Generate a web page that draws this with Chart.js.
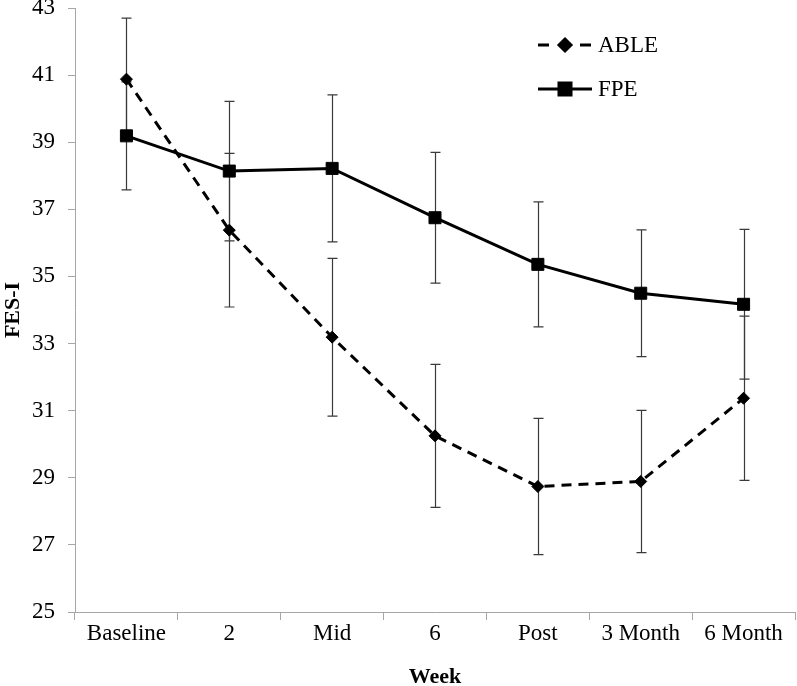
<!DOCTYPE html>
<html>
<head>
<meta charset="utf-8">
<script src="https://cdn.jsdelivr.net/npm/chart.js@4"></script>
<style>
  html, body { margin: 0; padding: 0; overflow: hidden; background: #fff; }
  canvas { display: block; }
</style>
</head>
<body>
<canvas id="myChart" width="797" height="686"></canvas>
<script>
const weeks = ["Baseline", "2", "Mid", "6", "Post", "3 Month", "6 Month"];
const ableMeans = [40.88, 36.38, 33.19, 30.25, 28.74, 28.89, 31.37];
const ableErr = [1.82, 2.29, 2.35, 2.13, 2.03, 2.12, 2.45];
const fpeMeans = [39.19, 38.14, 38.22, 36.75, 35.36, 34.50, 34.17];
const fpeErr = [1.61, 2.08, 2.19, 1.95, 1.86, 1.89, 2.23];

const serif = "'Liberation Serif', 'Times New Roman', serif";

// error bars, drawn under the lines
const errorBars = {
  id: "errorBars",
  beforeDatasetsDraw(chart) {
    const { ctx, scales } = chart;
    const x = scales.x, y = scales.y;
    const sets = [[ableMeans, ableErr], [fpeMeans, fpeErr]];
    ctx.save();
    ctx.strokeStyle = "#3a3a3a";
    ctx.lineWidth = 1.2;
    sets.forEach(([means, errs]) => {
      means.forEach((m, i) => {
        const px = Math.round(x.getPixelForValue(i)) + 0.5;
        const top = y.getPixelForValue(m + errs[i]);
        const bot = y.getPixelForValue(m - errs[i]);
        ctx.beginPath();
        ctx.moveTo(px, top); ctx.lineTo(px, bot);
        ctx.moveTo(px - 5, top); ctx.lineTo(px + 5, top);
        ctx.moveTo(px - 5, bot); ctx.lineTo(px + 5, bot);
        ctx.stroke();
      });
    });
    ctx.restore();
  },
};

// legend with line + marker samples
const lineLegend = {
  id: "lineLegend",
  afterDraw(chart) {
    const { ctx } = chart;
    const rows = [{ ds: chart.data.datasets[0], y: 45 }, { ds: chart.data.datasets[1], y: 89 }];
    ctx.save();
    rows.forEach(({ ds, y }) => {
      ctx.strokeStyle = "#000";
      ctx.lineWidth = 3;
      ctx.setLineDash(ds.borderDash ? [11, 10] : []);
      ctx.beginPath();
      ctx.moveTo(538, y); ctx.lineTo(592, y);
      ctx.stroke();
      ctx.setLineDash([]);
      Chart.helpers.drawPoint(ctx, {
        pointStyle: ds.pointStyle, radius: ds.pointRadius, borderWidth: 1,
      }, 565, y);
      ctx.fillStyle = "#000";
      ctx.fill();
      ctx.font = "23px " + serif;
      ctx.textBaseline = "middle";
      ctx.fillText(ds.label, 598, y + 1);
    });
    ctx.restore();
  },
};

new Chart(document.getElementById("myChart"), {
  type: "line",
  data: {
    labels: weeks,
    datasets: [
      {
        label: "ABLE",
        data: ableMeans,
        borderColor: "#000",
        backgroundColor: "#000",
        borderWidth: 3,
        borderDash: [10, 7],
        pointStyle: "rectRot",
        pointRadius: 6,
        pointBorderWidth: 1,
        tension: 0,
      },
      {
        label: "FPE",
        data: fpeMeans,
        borderColor: "#000",
        backgroundColor: "#000",
        borderWidth: 3,
        pointStyle: "rect",
        pointRadius: 8.5,
        pointBorderWidth: 1,
        tension: 0,
      },
    ],
  },
  options: {
    responsive: false,
    animation: false,
    layout: { autoPadding: false, padding: { top: 8, right: 2, left: 0, bottom: 0 } },
    plugins: { legend: { display: false }, tooltip: { enabled: false } },
    scales: {
      x: {
        offset: true,
        grid: { offset: true, drawOnChartArea: false, drawTicks: true, tickLength: 8, color: "#a6a6a6" },
        border: { color: "#a6a6a6" },
        ticks: { color: "#000", font: { family: serif, size: 23 }, padding: 0, maxRotation: 0 },
        title: { display: true, text: "Week", color: "#000", font: { family: serif, size: 22, weight: "bold" }, padding: { top: 0, bottom: -5 } },
        afterFit(scale) {
          scale.height = 74;
          scale.paddingLeft = 0;
          scale.paddingRight = 0;
        },
      },
      y: {
        min: 25,
        max: 43,
        ticks: { stepSize: 2, color: "#000", font: { family: serif, size: 23 }, padding: 13 },
        grid: { drawOnChartArea: false, drawTicks: true, tickLength: 7, color: "#a6a6a6" },
        border: { color: "#a6a6a6" },
        title: { display: true, text: "FES-I", color: "#000", font: { family: serif, size: 22, weight: "bold" }, padding: 0 },
        afterFit(scale) {
          scale.width = 75;
          scale.paddingTop = 0;
          scale.paddingBottom = 0;
        },
      },
    },
  },
  plugins: [errorBars, lineLegend],
});
</script>
</body>
</html>
